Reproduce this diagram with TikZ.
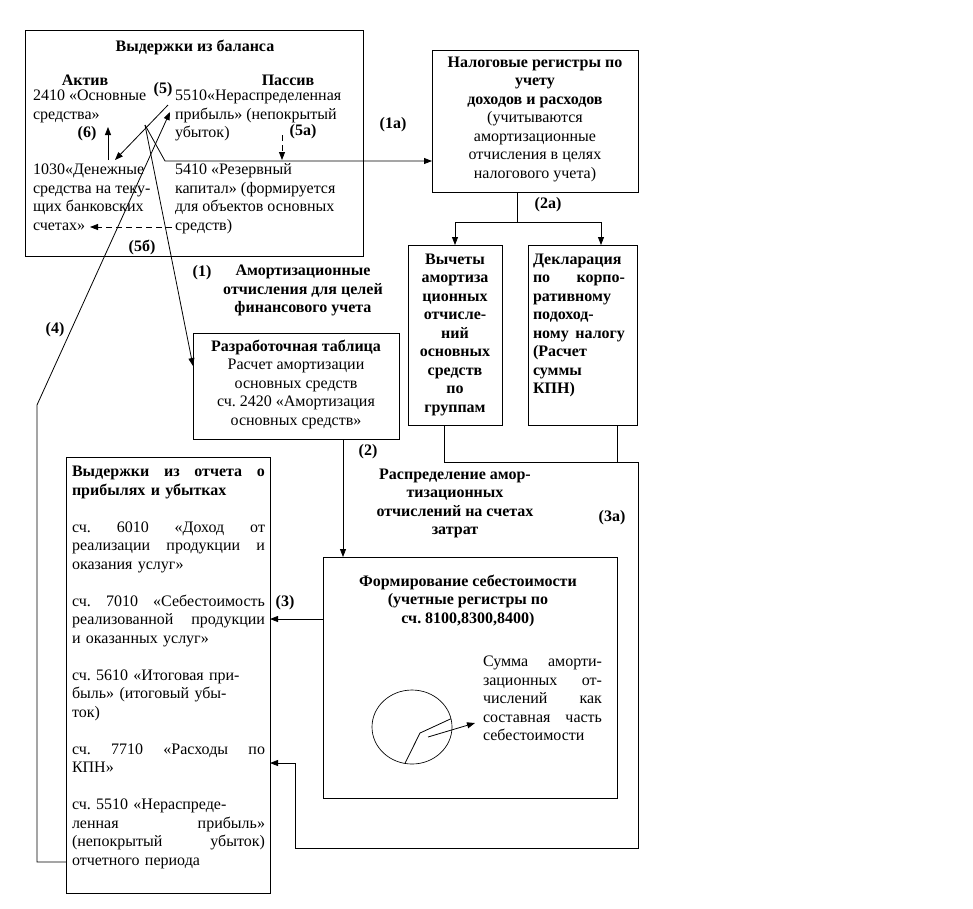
\documentclass[tikz,border=0pt]{standalone}
\usepackage{fontspec}
\setmainfont{Liberation Serif}
\usetikzlibrary{arrows.meta,shapes.geometric,calc}
\newcommand\J[2]{{\spaceskip=0pt\xspaceskip=0pt\makebox[#1][s]{#2}}}
\frenchspacing
\begin{document}
\begin{tikzpicture}[x=0.75pt,y=-0.75pt,
  every node/.style={font=\fontsize{12}{13.875}\selectfont, inner sep=0pt, outer sep=0pt},
  box/.style={draw, line width=0.6pt, anchor=north west},
  lbl/.style={font=\fontsize{12}{13.875}\selectfont\bfseries},
  blk/.style={anchor=north, align=center, execute at begin node=\strut},
  blkl/.style={anchor=north west, align=left, execute at begin node=\strut},
  con/.style={line width=0.6pt},
  arr/.style={con, -{Triangle[length=6pt,width=4.5pt]}},
  dsh/.style={dash pattern=on 4.5pt off 3pt},
]
\useasboundingbox (0,0) rectangle (973,908);

% ---------- balance box
\node[box, minimum width=253.5pt, minimum height=169.5pt] (bal) at (25,30) {};
\node[lbl] (balT) at (195,47) {Выдержки из баланса};
\node[lbl] (akt) at (85,80) {Актив};
\node[lbl] (pas) at (288,80) {Пассив};
\node[blkl] (a2410) at (33,90) {2410 «Основные\\средства»};
\node[blkl] (a1030) at (33,164) {1030«Денежные\\средства на теку-\\щих банковских\\счетах»};
\node[blkl] (p5510) at (175,90) {5510«Нераспределенная\\прибыль» (непокрытый\\убыток)};
\node[blkl] (p5410) at (175,164) {5410 «Резервный\\капитал» (формируется\\для объектов основных\\средств)};

% ---------- tax registers
\node[box, minimum width=154.5pt, minimum height=106.5pt] (nal) at (432,50) {};
\node[blk] (nalT) at (535,57) {\textbf{Налоговые регистры по}\\\textbf{учету}\\\textbf{доходов и расходов}\\(учитываются\\амортизационные\\отчисления в целях\\налогового учета)};

% ---------- deductions
\node[box, minimum width=70.5pt, minimum height=135pt] (vyc) at (408,245) {};
\node[blk, lbl] (vycT) at (455,254) {Вычеты\\амортиза\\ционных\\отчисле-\\ний\\основных\\средств\\по\\группам};

% ---------- declaration
\node[box, minimum width=81.75pt, minimum height=135pt] (dek) at (528,245) {};
\node[blkl, lbl] (dekT) at (533,254) {Декларация\\\J{69pt}{по корпо-}\\ративному\\подоход-\\\J{69pt}{ному налогу}\\(Расчет\\суммы\\КПН)};

% ---------- working table
\node[box, minimum width=154.5pt, minimum height=79.5pt] (raz) at (193,333) {};
\node[blk] (razT) at (296,340) {\textbf{Разработочная таблица}\\Расчет амортизации\\основных средств\\сч. 2420 «Амортизация\\основных средств»};

% ---------- P&L
\node[box, minimum width=153pt, minimum height=327pt] (otc) at (66,457) {};
\node[blkl, text width=144.75pt] (otcT) at (72,464) {\textbf{\J{144.75pt}{Выдержки из отчета о}}\\\textbf{прибылях и убытках}\\[13.875pt]
\J{144.75pt}{сч. 6010 «Доход от}\\\J{144.75pt}{реализации продукции и}\\оказания услуг»\\[13.875pt]
\J{144.75pt}{сч. 7010 «Себестоимость}\\\J{144.75pt}{реализованной продукции}\\и оказанных услуг»\\[13.875pt]
сч. 5610 «Итоговая при-\\быль» (итоговый убы-\\ток)\\[13.875pt]
\J{144.75pt}{сч. 7710 «Расходы по}\\КПН»\\[13.875pt]
сч. 5510 «Нераспреде-\\\J{144.75pt}{ленная прибыль»}\\\J{144.75pt}{(непокрытый убыток)}\\отчетного периода};

% ---------- cost formation
\node[box, minimum width=220.5pt, minimum height=180.75pt] (seb) at (323,557) {};
\node[blk, lbl] (sebT) at (468,575) {Формирование себестоимости\\(учетные регистры по\\сч. 8100,8300,8400)};
\node[ellipse, draw, line width=0.5pt, minimum width=60pt, minimum height=55.5pt] (pie) at (412,727) {};
\node[blkl, text width=89.25pt] (sum) at (483,654) {\J{89.25pt}{Сумма аморти-}\\\J{89.25pt}{зационных от-}\\\J{89.25pt}{числений как}\\\J{89.25pt}{составная часть}\\себестоимости};

% ---------- free texts
\node[blk, lbl] (amT) at (303,265) {Амортизационные\\отчисления для целей\\финансового учета};
\node[blk, lbl] (rasT) at (455,469) {Распределение амор-\\тизационных\\отчислений на счетах\\затрат};

% ---------- labels
\node[lbl] (l1) at (202,273) {(1)};
\node[lbl] (l1a) at (393,125) {(1а)};
\node[lbl] (l2a) at (548,205) {(2а)};
\node[lbl] (l2) at (368,452) {(2)};
\node[lbl] (l3) at (285,603) {(3)};
\node[lbl] (l3a) at (612,518) {(3а)};
\node[lbl] (l4) at (55,330) {(4)};
\node[lbl] (l5) at (163,90) {(5)};
\node[lbl] (l5a) at (303,132) {(5а)};
\node[lbl] (l5b) at (142,247) {(5б)};
\node[lbl] (l6) at (87,134) {(6)};

% ---------- coordinates
\coordinate (o) at (145,125);
\coordinate (k1) at (165,161);
\coordinate (c6a) at (108,160);
\coordinate (c6b) at (108,127);
\coordinate (c5a) at (168,105);
\coordinate (c5b) at (115,160);
\coordinate (c4a) at (37,862);
\coordinate (c4b) at (37,405);
\coordinate (c4c) at (170,112);
\coordinate (d5a) at (282,135);
\coordinate (d5b) at (282,160);
\coordinate (e5a) at (172,227);
\coordinate (e5b) at (90,227);
\coordinate (s2a) at (517,222);
\coordinate (j1) at (638,462);
\coordinate (j3) at (295,848);
\coordinate (j4) at (295,763);
\coordinate (pc) at (420,733);
\coordinate (pa) at (428,737);
\coordinate (pb) at (475,723);

% ---------- connectors
\draw[arr] (o) -- (k1) -- (nal.west |- k1);
\draw[arr] (o) -- ($(raz.north west)+(0,33)$);
\draw[arr] (c6a) -- (c6b);
\draw[arr] (c5a) -- (c5b);
\draw[arr] (otc.west |- c4a) -- (c4a) -- (c4b) -- (c4c);
\draw[arr, dsh] (d5a) -- (d5b);
\draw[arr, dsh] (e5a) -- (e5b);
\draw[con] ($(nal.south)+(-18,0)$) -- (s2a);
\draw[arr] (s2a) -| (vyc.north);
\draw[arr] (s2a) -| ($(dek.north)+(18.5,0)$);
\draw[arr] ($(raz.south west)+(150,0)$) -- ($(seb.north west)+(20,0)$);
\draw[arr] ($(seb.north west)+(0,62)$) -- ($(otc.north east)+(0,162)$);
\draw[con] ($(vyc.south west)+(36,0)$) |- (j1);
\draw[con] ($(dek.south west)+(89,0)$) -- ++(0,37);
\draw[arr] (j1) |- (j3) -- (j4) -- (otc.east |- j4);
\draw[con] (pie.-101) -- (pc) -- (pie.12);
\draw[arr] (pa) -- (pb);
\end{tikzpicture}
\end{document}
